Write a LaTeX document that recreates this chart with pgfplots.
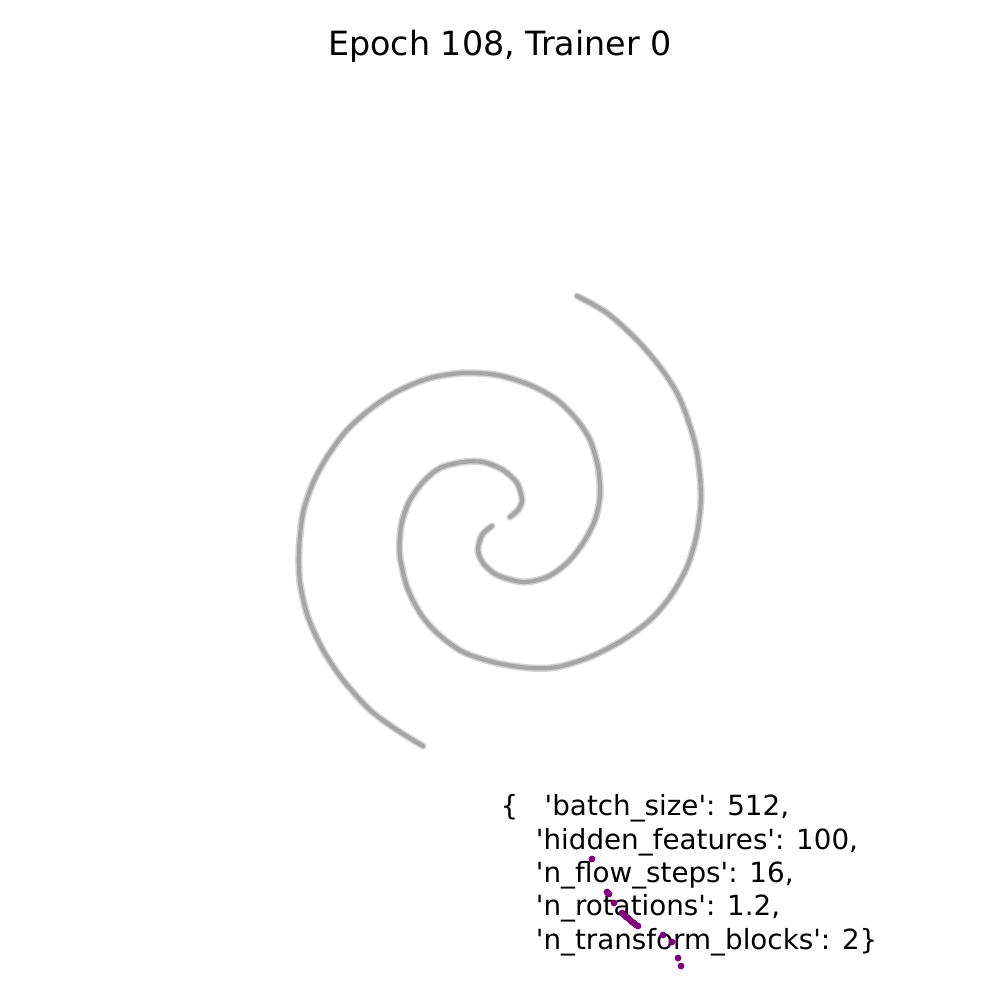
\documentclass[border=0pt]{standalone}
\usepackage{pgfplots}
\pgfplotsset{compat=1.18}
\usepackage{fontspec}
\setmainfont{DejaVu Sans}
\definecolor{spiralA}{RGB}{212,212,212}
\definecolor{spiralB}{RGB}{165,165,165}
\definecolor{pts}{RGB}{128,0,128}
\newcommand\q{\textquotesingle}
\pgfplotstableread{
x y
510 517
518 510
522 500
517 483
503 470
483 462
463 462
440 468
423 482
410 500
403 518
400 535
400 557
407 587
420 613
437 633
463 652
497 663
530 668
557 667
590 657
623 640
650 620
670 597
687 567
697 533
701 495
697 453
688 420
677 393
660 367
637 340
607 313
577 296
}\armA
\pgfplotstableread{
x y
492 526
482 535
478 550
483 563
497 575
523 582
547 577
567 563
583 543
595 520
600 495
598 467
590 440
577 420
557 400
530 385
497 375
463 373
430 378
400 390
373 407
347 430
327 457
313 483
303 513
299 550
300 583
308 617
323 650
343 680
370 710
397 730
423 746
}\armB
\begin{document}
\begin{tikzpicture}
\begin{axis}[
  scale only axis, width=360pt, height=360pt,
  xmin=0, xmax=1000, ymin=0, ymax=1000, y dir=reverse,
  axis lines=none, clip=false,
]
\path (rel axis cs:0,0) rectangle (rel axis cs:1,1);
\addplot[spiralA, line width=2.6pt, smooth, line cap=round] table {\armA};
\addplot[spiralB, line width=1.5pt, smooth, line cap=round] table {\armA};
\addplot[spiralA, line width=2.6pt, smooth, line cap=round] table {\armB};
\addplot[spiralB, line width=1.5pt, smooth, line cap=round] table {\armB};
\node[anchor=base, inner sep=0pt, font=\fontsize{12}{14}\selectfont] at (axis cs:500,56) {Epoch 108, Trainer 0};
\node[anchor=base west, inner sep=0pt, align=left, font=\fontsize{10}{12}\selectfont] at (axis cs:500,949)
{\{\hspace*{0.954em}\q batch\_size\q: 512,\\
\hspace*{1.272em}\q hidden\_features\q: 100,\\
\hspace*{1.272em}\q n\_flow\_steps\q: 16,\\
\hspace*{1.272em}\q n\_rotations\q: 1.2,\\
\hspace*{1.272em}\q n\_transform\_blocks\q: 2\}};
\addplot[only marks, mark=*, mark size=1.0pt, color=pts] coordinates {
(592,859) (607,892) (608,893) (609,894) (614,903) (622,913) (624,915) (626,917) (628,918) (630,920) (632,922) (634,923) (636,925) (638,926)
(663,935) (672,942) (678,958) (681,966)
};
\end{axis}
\end{tikzpicture}
\end{document}
